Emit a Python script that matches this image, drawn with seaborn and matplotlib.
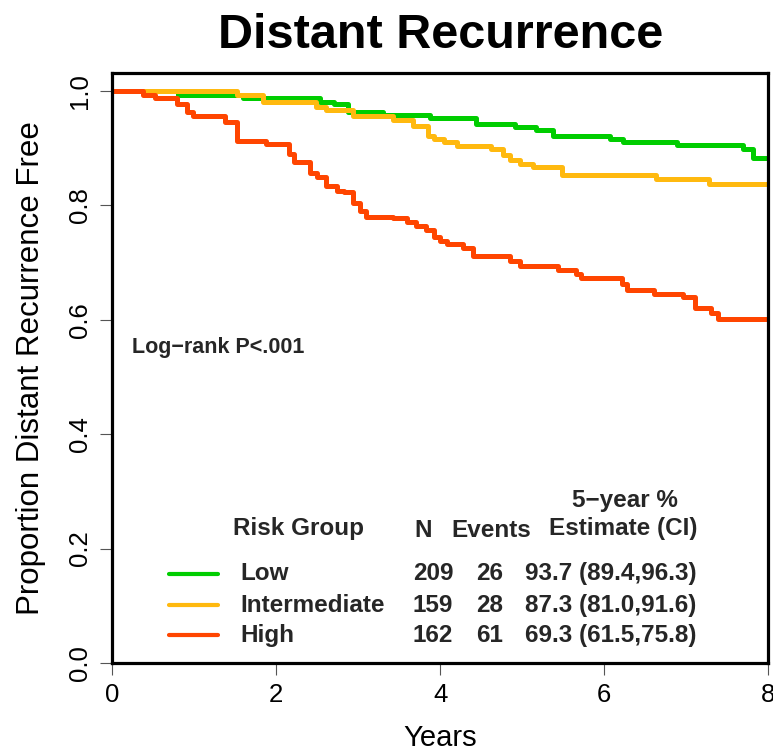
import matplotlib
matplotlib.use("Agg")
import matplotlib.pyplot as plt
import seaborn as sns
import pandas as pd

# ---- data ----
groups = ["Low", "Intermediate", "High"]
colors = ["#00CD00", "#FFB90F", "#FF4500"]

low_t = [0, 0.80, 1.60, 2.53, 2.70, 2.88, 3.30, 3.87, 4.44, 4.91, 5.17, 5.37,
         6.07, 6.23, 6.88, 7.69, 7.81, 8.0]
low_s = [1.0, 0.993, 0.988, 0.981, 0.977, 0.963, 0.958, 0.952, 0.942, 0.936,
         0.931, 0.921, 0.916, 0.911, 0.905, 0.898, 0.883, 0.883]

int_t = [0, 1.52, 1.84, 2.49, 2.61, 2.94, 3.42, 3.67, 3.85, 3.92, 4.04, 4.20,
         4.62, 4.77, 4.85, 4.97, 5.13, 5.48, 6.63, 7.28, 8.0]
int_s = [1.0, 0.993, 0.980, 0.972, 0.966, 0.955, 0.948, 0.939, 0.921, 0.916,
         0.910, 0.904, 0.898, 0.887, 0.879, 0.872, 0.866, 0.853, 0.846, 0.837,
         0.837]

high_t = [0, 0.38, 0.52, 0.79, 0.91, 0.99, 1.38, 1.52, 1.88, 2.16, 2.22, 2.41,
          2.50, 2.61, 2.74, 2.83, 2.94, 3.02, 3.10, 3.42, 3.59, 3.71, 3.83,
          3.92, 4.00, 4.08, 4.28, 4.40, 4.85, 4.97, 5.44, 5.66, 5.72, 6.21,
          6.27, 6.61, 6.96, 7.10, 7.30, 7.39, 8.0]
high_s = [1.0, 0.993, 0.987, 0.977, 0.962, 0.956, 0.945, 0.913, 0.907, 0.890,
          0.875, 0.857, 0.849, 0.834, 0.825, 0.823, 0.803, 0.790, 0.780, 0.777,
          0.770, 0.764, 0.756, 0.744, 0.738, 0.732, 0.725, 0.712, 0.703, 0.693,
          0.686, 0.680, 0.672, 0.663, 0.651, 0.645, 0.639, 0.621, 0.611, 0.601,
          0.601]

n_vals = ["209", "159", "162"]
event_vals = ["26", "28", "61"]
est_vals = ["93.7 (89.4,96.3)", "87.3 (81.0,91.6)", "69.3 (61.5,75.8)"]

x_ticks = [0, 2, 4, 6, 8]
y_ticks = [0.0, 0.2, 0.4, 0.6, 0.8, 1.0]

title = "Distant Recurrence"
xlabel = "Years"
ylabel = "Proportion Distant Recurrence Free"
pval_text = "Log\u2212rank P<.001"

# ---- build long table ----
frames = []
for g, t, s in zip(groups, [low_t, int_t, high_t], [low_s, int_s, high_s]):
    frames.append(pd.DataFrame({"group": g, "time": t, "surv": s}))
df = pd.concat(frames, ignore_index=True)

sns.set_theme(style="white")
plt.rcParams["font.family"] = ["Liberation Sans", "DejaVu Sans"]

fig = plt.figure(figsize=(7.73, 7.54), dpi=100)
ax = fig.add_axes([112 / 773, 91 / 754, (768.5 - 112) / 773, (663 - 73) / 754])

sns.lineplot(data=df, x="time", y="surv", hue="group", hue_order=groups,
             palette=colors, estimator=None, sort=False, units="group",
             drawstyle="steps-post", linewidth=3.6, legend=False, ax=ax)

ax.set_xlim(0, 8)
ax.set_ylim(0, 1.031)
ax.set_xticks(x_ticks)
ax.set_xticklabels([str(v) for v in x_ticks])
ax.set_yticks(y_ticks)
ax.set_yticklabels([f"{v:.1f}" for v in y_ticks])

for sp in ax.spines.values():
    sp.set_visible(True)
    sp.set_color("black")
    sp.set_linewidth(2.3)

ax.tick_params(axis="both", which="major", direction="out", length=8.6,
               width=0.8, color="#555555", labelsize=18.5, labelcolor="black",
               bottom=True, left=True)
ax.tick_params(axis="x", pad=6)
ax.tick_params(axis="y", labelrotation=90, pad=6)
for lab in ax.get_yticklabels():
    lab.set_va("center")

ax.set_xlabel(xlabel, fontsize=21, color="black")
ax.set_ylabel(ylabel, fontsize=22.5, color="black")
ax.xaxis.set_label_coords(0.5, -0.103)
ax.yaxis.set_label_coords(-0.100, 0.5)

ax.set_title(title, fontsize=35, fontweight="bold", pad=18, color="black")

# p-value text
ax.text(0.03, 0.534, pval_text, transform=ax.transAxes, fontsize=15.5,
        fontweight="bold", ha="left", va="center")

# ---- table-style legend ----
fs = 17.5
hdr_y = 0.228
ax.text(0.781, 0.276, "5\u2212year %", transform=ax.transAxes, fontsize=fs,
        fontweight="bold", ha="center", va="center")
ax.text(0.184, hdr_y, "Risk Group", transform=ax.transAxes, fontsize=fs,
        fontweight="bold", ha="left", va="center")
ax.text(0.461, hdr_y - 0.004, "N", transform=ax.transAxes, fontsize=fs,
        fontweight="bold", ha="left", va="center")
ax.text(0.5175, hdr_y - 0.004, "Events", transform=ax.transAxes, fontsize=fs,
        fontweight="bold", ha="left", va="center")
ax.text(0.665, hdr_y, "Estimate (CI)", transform=ax.transAxes, fontsize=fs,
        fontweight="bold", ha="left", va="center")

row_y = [0.151, 0.098, 0.047]
for g, c, n, e, est, y in zip(groups, colors, n_vals, event_vals, est_vals, row_y):
    ax.plot([0.087, 0.161], [y, y], transform=ax.transAxes, color=c,
            linewidth=3.0, solid_capstyle="round", clip_on=False)
    ax.text(0.195, y, g, transform=ax.transAxes, fontsize=fs,
            fontweight="bold", ha="left", va="center")
    ax.text(0.458, y, n, transform=ax.transAxes, fontsize=fs,
            fontweight="bold", ha="left", va="center")
    ax.text(0.554, y, e, transform=ax.transAxes, fontsize=fs,
            fontweight="bold", ha="left", va="center")
    ax.text(0.629, y, est, transform=ax.transAxes, fontsize=fs,
            fontweight="bold", ha="left", va="center")

fig.savefig("out.png", dpi=100, facecolor="white")
